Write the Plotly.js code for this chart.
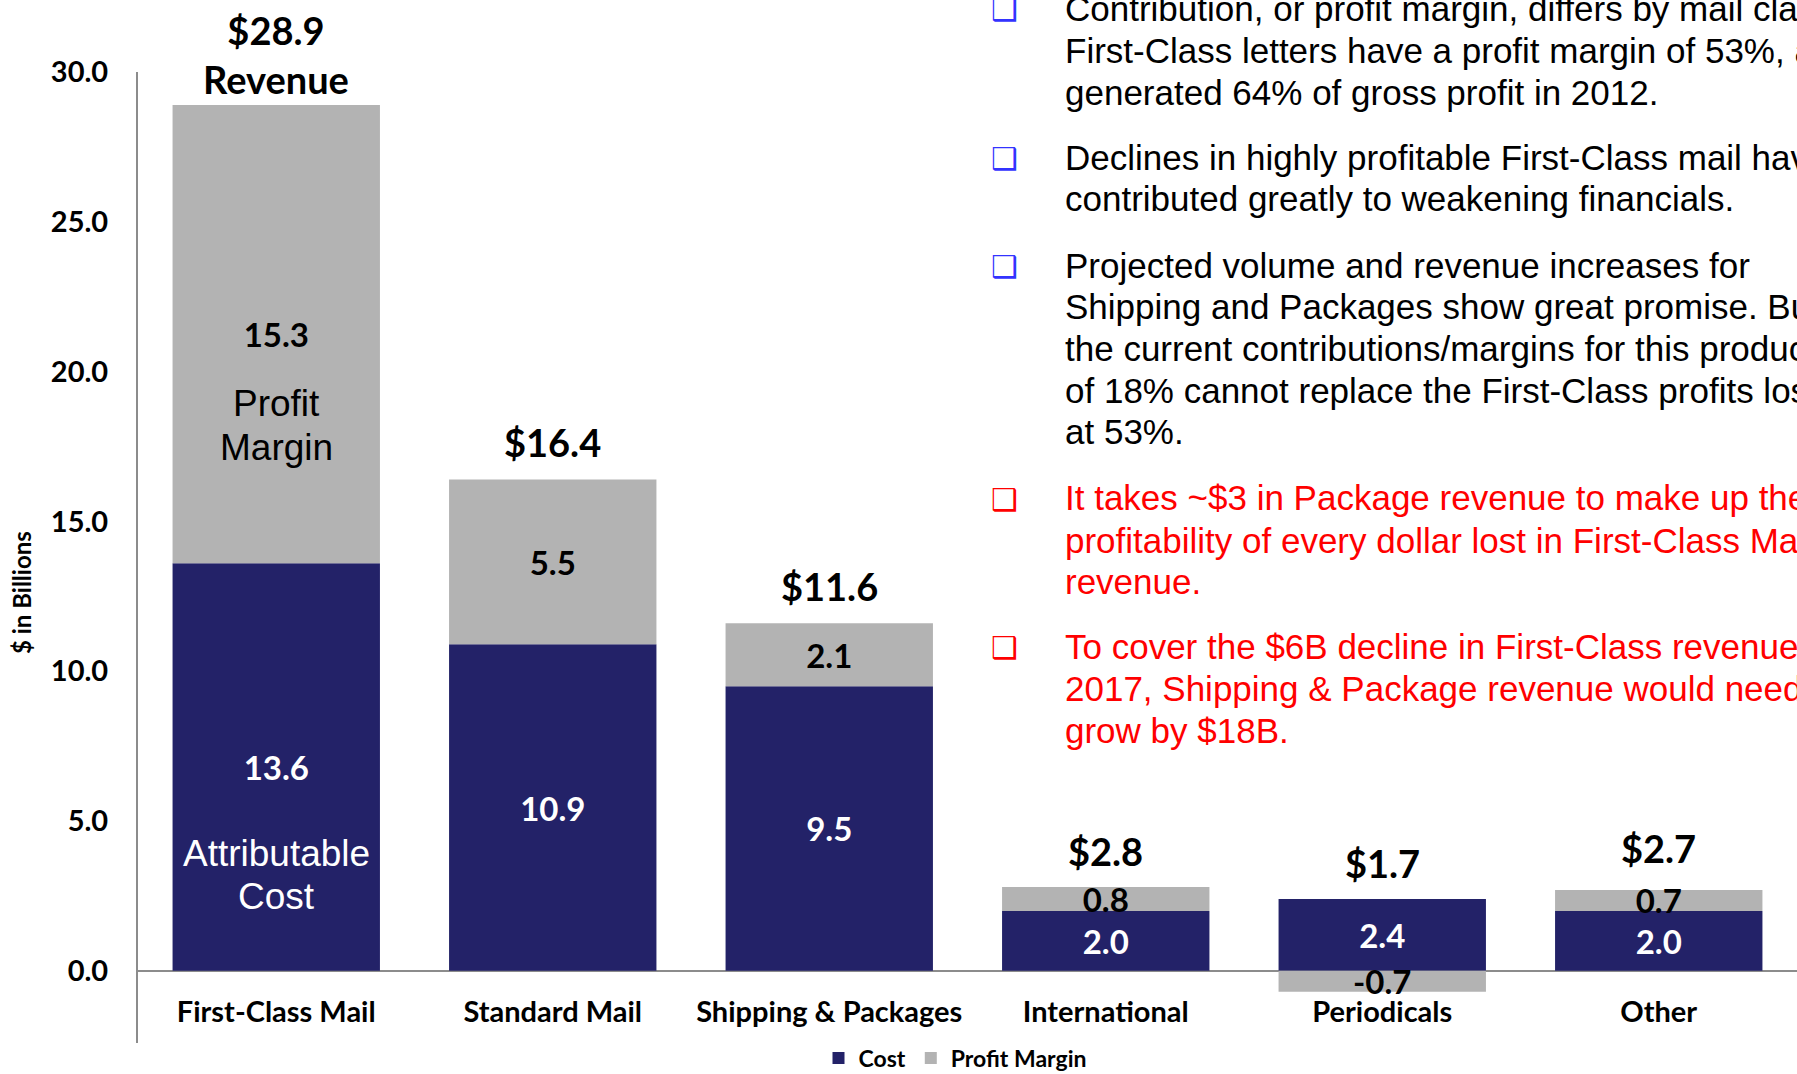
<!DOCTYPE html>
<html>
<head>
<meta charset="utf-8">
<script src="https://cdn.plot.ly/plotly-3.0.1.min.js"></script>
<style>
html,body{margin:0;padding:0;background:#fff;}
#chart{width:1797px;height:1074px;}
</style>
</head>
<body>
<div id="chart"></div>
<script>
// ---- data ----
const categories = ['First-Class Mail','Standard Mail','Shipping & Packages','International','Periodicals','Other'];
const costValues = [13.6, 10.9, 9.5, 2.0, 2.4, 2.0];
const marginValues = [15.3, 5.5, 2.1, 0.8, -0.7, 0.7];
const revenueValues = [28.9, 16.4, 11.6, 2.8, 1.7, 2.7];
const yTickValues = [0, 5, 10, 15, 20, 25, 30];

const bulletTexts = [
  {color:'#000000', bullet:'#3333ff', lines:['Contribution, or profit margin, differs by mail class.','First-Class letters have a profit margin of 53%, and','generated 64% of gross profit in 2012.']},
  {color:'#000000', bullet:'#3333ff', lines:['Declines in highly profitable First-Class mail have','contributed greatly to weakening financials.']},
  {color:'#000000', bullet:'#3333ff', lines:['Projected volume and revenue increases for','Shipping and Packages show great promise. But','the current contributions/margins for this products','of 18% cannot replace the First-Class profits lost','at 53%.']},
  {color:'#ff0000', bullet:'#ff0000', lines:['It takes ~$3 in Package revenue to make up the','profitability of every dollar lost in First-Class Mail','revenue.']},
  {color:'#ff0000', bullet:'#ff0000', lines:['To cover the $6B decline in First-Class revenue','2017, Shipping & Package revenue would need','grow by $18B.']}
];

// ---- layout helpers (pixel -> paper) ----
const W = 1797, H = 1074;
const M = {l:138, r:0, t:72, b:31, autoexpand:false};
const PW = W - M.l - M.r, PH = H - M.t - M.b;
const pxX = x => (x - M.l) / PW;
const pxY = y => 1 - (y - M.t) / PH;

const NAVY = '#232268';
const GREY = '#b3b3b3';
const BOLD = 'Lato, Carlito, Calibri, sans-serif';
const ARIAL = 'Liberation Sans, Arial, sans-serif';

const traces = [
  {
    type:'bar', name:'Cost', x:categories, y:costValues,
    marker:{color:NAVY, line:{width:0}},
    text:costValues.map(v=>v.toFixed(1)),
    textposition:'inside', insidetextanchor:'middle', constraintext:'none',
    textfont:{family:BOLD, size:33, color:'#ffffff', weight:700},
    cliponaxis:false, hoverinfo:'skip'
  },
  {
    type:'bar', name:'Profit Margin', x:categories, y:marginValues,
    marker:{color:GREY, line:{width:0}},
    text:marginValues.map(v=>v.toFixed(1)),
    textposition:'inside', insidetextanchor:'middle', constraintext:'none',
    textfont:{family:BOLD, size:33, color:'#000000', weight:700},
    cliponaxis:false, hoverinfo:'skip'
  }
];

const annotations = [];
// revenue labels above each stack
const revShift = [50, 37, 37, 36, 36, 42];
categories.forEach((c,i)=>{
  const top = costValues[i] + Math.max(marginValues[i], 0);
  const first = i === 0;
  annotations.push({
    x:c, y:top, xref:'x', yref:'y', showarrow:false,
    text: first ? '$' + revenueValues[i].toFixed(1) + '<br>Revenue' : '$' + revenueValues[i].toFixed(1),
    yanchor:'middle', yshift: revShift[i],
    font:{family:BOLD, size:38, color:'#000', weight:700}
  });
});
// in-bar descriptive labels (one annotation per line for tight line spacing)
[['Profit',18.95,'#000'],['Margin',17.48,'#000'],['Attributable',3.93,'#fff'],['Cost',2.47,'#fff']].forEach(a=>{
  annotations.push({x:categories[0], y:a[1], xref:'x', yref:'y', showarrow:false, yanchor:'middle',
    text:a[0], font:{family:ARIAL, size:37, color:a[2]}});
});
// y axis title
annotations.push({x:pxX(21), y:pxY(593), xref:'paper', yref:'paper', showarrow:false,
  xanchor:'center', yanchor:'middle',
  text:'$ in Billions', textangle:-90, font:{family:BOLD, size:24, color:'#000', weight:700}});

// right-hand commentary
const lineY = [[8.5,50,92],[157,198],[265,306,348,390,431],[498,540,581],[646,688,730]];
bulletTexts.forEach((b,bi)=>{
  annotations.push({x:pxX(1005), y:pxY(lineY[bi][0]+1), xref:'paper', yref:'paper', showarrow:false,
    xanchor:'center', yanchor:'middle', text:'\u2751',
    font:{family:'DejaVu Sans, sans-serif', size:30, color:b.bullet, weight:700}});
  b.lines.forEach((ln,li)=>{
    annotations.push({x:pxX(1063), y:pxY(lineY[bi][li]), xref:'paper', yref:'paper', showarrow:false,
      xanchor:'left', yanchor:'middle', text:ln,
      font:{family:ARIAL, size:35, color:b.color}});
  });
});

const layout = {
  width:W, height:H, margin:M,
  paper_bgcolor:'#fff', plot_bgcolor:'rgba(0,0,0,0)',
  barmode:'relative', bargap:0.25,
  showlegend:true,
  legend:{orientation:'h', x:pxX(955), xanchor:'center', y:pxY(1058), yanchor:'middle',
    font:{family:BOLD, size:23, color:'#000', weight:700}, bgcolor:'rgba(0,0,0,0)', itemwidth:30,
    tracegroupgap:0, borderwidth:0},
  xaxis:{
    type:'category', range:[-0.5, 5.5], anchor:'free', position:pxY(992),
    showline:false, zeroline:false, showgrid:false, ticks:'', automargin:false,
    tickfont:{family:BOLD, size:29, color:'#000', weight:700}, fixedrange:true
  },
  yaxis:{
    range:[-2.41, 30], tickvals:yTickValues, ticktext:yTickValues.map(v=>v.toFixed(1)),
    showline:true, linecolor:'#8c8c8c', linewidth:2,
    zeroline:true, zerolinecolor:'#8c8c8c', zerolinewidth:2,
    showgrid:false, ticks:'', ticklabelstandoff:22, automargin:false,
    tickfont:{family:BOLD, size:29, color:'#000', weight:700}, fixedrange:true
  },
  annotations:annotations
};

Plotly.newPlot('chart', traces, layout, {displayModeBar:false, staticPlot:true});
</script>
</body>
</html>
